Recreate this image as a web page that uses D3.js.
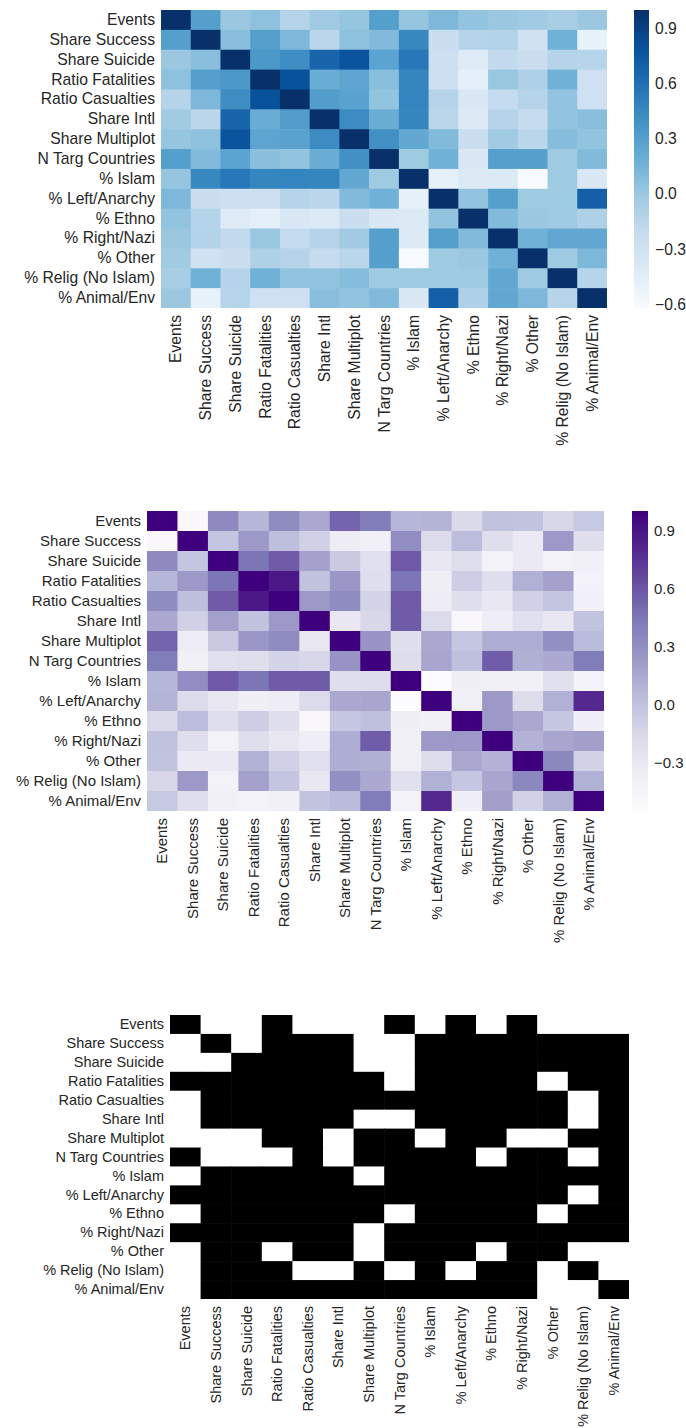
<!DOCTYPE html>
<html lang="en">
<head>
<meta charset="UTF-8">
<title>Correlation heatmaps</title>
<script src="https://cdn.jsdelivr.net/npm/d3@7/dist/d3.min.js"></script>
<style>
  body { margin: 0; background: #fff; }
  svg { display: block; }
</style>
</head>
<body>
<svg id="chart" width="686" height="1428"></svg>
<script>
var labels = ["Events", "Share Success", "Share Suicide", "Ratio Fatalities", "Ratio Casualties",
    "Share Intl", "Share Multiplot", "N Targ Countries", "% Islam", "% Left/Anarchy",
    "% Ethno", "% Right/Nazi", "% Other", "% Relig (No Islam)", "% Animal/Env"];

// top chart
var corrAll = [
    [1.00, 0.30, 0.00, 0.05, -0.13, -0.03, 0.02, 0.30, 0.02, 0.12, 0.03, 0.00, -0.03, -0.06, 0.00],
    [0.30, 1.00, 0.07, 0.30, 0.12, -0.16, 0.05, 0.10, 0.45, -0.25, -0.13, -0.12, -0.30, 0.17, -0.50],
    [0.00, 0.07, 1.00, 0.35, 0.42, 0.67, 0.78, 0.27, 0.55, -0.27, -0.42, -0.20, -0.25, -0.13, -0.14],
    [0.05, 0.30, 0.35, 1.00, 0.80, 0.20, 0.26, 0.07, 0.47, -0.27, -0.47, 0.01, -0.10, 0.17, -0.28],
    [-0.13, 0.12, 0.42, 0.80, 1.00, 0.31, 0.28, 0.03, 0.48, -0.13, -0.38, -0.21, -0.13, 0.03, -0.28],
    [-0.03, -0.16, 0.67, 0.20, 0.31, 1.00, 0.43, 0.20, 0.47, -0.16, -0.40, -0.13, -0.22, 0.03, 0.07],
    [0.02, 0.05, 0.78, 0.26, 0.28, 0.43, 1.00, 0.40, 0.23, 0.10, -0.25, -0.03, -0.15, 0.08, 0.03],
    [0.30, 0.10, 0.27, 0.07, 0.03, 0.20, 0.40, 1.00, -0.02, 0.17, -0.38, 0.30, 0.30, -0.02, 0.10],
    [0.02, 0.45, 0.55, 0.47, 0.48, 0.47, 0.23, -0.02, 1.00, -0.48, -0.40, -0.40, -0.62, -0.02, -0.38],
    [0.12, -0.25, -0.27, -0.27, -0.13, -0.16, 0.10, 0.17, -0.48, 1.00, 0.03, 0.30, -0.02, -0.02, 0.70],
    [0.03, -0.13, -0.42, -0.47, -0.38, -0.40, -0.25, -0.38, -0.40, 0.03, 1.00, 0.10, 0.00, -0.02, -0.10],
    [0.00, -0.12, -0.20, 0.01, -0.21, -0.13, -0.03, 0.30, -0.40, 0.30, 0.10, 1.00, 0.17, 0.24, 0.24],
    [-0.03, -0.30, -0.25, -0.10, -0.13, -0.22, -0.15, 0.30, -0.62, -0.02, 0.00, 0.17, 1.00, -0.02, 0.12],
    [-0.06, 0.17, -0.13, 0.17, 0.03, 0.03, 0.08, -0.02, -0.02, -0.02, -0.02, 0.24, -0.02, 1.00, -0.14],
    [0.00, -0.50, -0.14, -0.28, -0.28, 0.07, 0.03, 0.10, -0.38, 0.70, -0.10, 0.24, 0.12, -0.14, 1.00]
];

// middle chart, purples
var corrSub = [
    [1.00, -0.50, 0.33, 0.07, 0.32, 0.15, 0.53, 0.42, 0.07, 0.08, -0.16, 0.00, -0.01, -0.14, -0.04],
    [-0.50, 1.00, -0.02, 0.24, 0.02, -0.10, -0.35, -0.40, 0.31, -0.17, 0.03, -0.20, -0.32, 0.24, -0.20],
    [0.33, -0.02, 1.00, 0.45, 0.57, 0.19, -0.05, -0.22, 0.58, -0.28, -0.20, -0.42, -0.32, -0.42, -0.40],
    [0.07, 0.24, 0.45, 1.00, 0.88, 0.00, 0.25, -0.20, 0.45, -0.38, -0.08, -0.20, 0.10, 0.19, -0.42],
    [0.32, 0.02, 0.57, 0.88, 1.00, 0.24, 0.32, -0.12, 0.57, -0.35, -0.21, -0.30, -0.10, -0.02, -0.40],
    [0.15, -0.10, 0.19, 0.00, 0.24, 1.00, -0.30, -0.15, 0.57, -0.17, -0.50, -0.36, -0.22, -0.30, -0.01],
    [0.53, -0.35, -0.05, 0.25, 0.32, -0.30, 1.00, 0.27, -0.21, 0.15, -0.03, 0.12, 0.12, 0.30, 0.04],
    [0.42, -0.40, -0.22, -0.20, -0.12, -0.15, 0.27, 1.00, -0.19, 0.16, 0.01, 0.56, 0.11, 0.14, 0.42],
    [0.07, 0.31, 0.58, 0.45, 0.57, 0.57, -0.21, -0.19, 1.00, -0.55, -0.38, -0.40, -0.40, -0.22, -0.42],
    [0.08, -0.17, -0.28, -0.38, -0.35, -0.17, 0.15, 0.16, -0.55, 1.00, -0.40, 0.24, -0.19, 0.10, 0.80],
    [-0.16, 0.03, -0.20, -0.08, -0.21, -0.50, -0.03, 0.01, -0.38, -0.40, 1.00, 0.24, 0.15, -0.03, -0.37],
    [0.00, -0.20, -0.42, -0.20, -0.30, -0.36, 0.12, 0.56, -0.40, 0.24, 0.24, 1.00, 0.09, 0.16, 0.20],
    [-0.01, -0.32, -0.32, 0.10, -0.10, -0.22, 0.12, 0.11, -0.40, -0.19, 0.15, 0.09, 1.00, 0.35, -0.11],
    [-0.14, 0.24, -0.42, 0.19, -0.02, -0.30, 0.30, 0.14, -0.22, 0.10, -0.03, 0.16, 0.35, 1.00, 0.10],
    [-0.04, -0.20, -0.40, -0.42, -0.40, -0.01, 0.04, 0.42, -0.42, 0.80, -0.37, 0.20, -0.11, 0.10, 1.00]
];

// bottom chart, 1 = black
var sigMask = [
    [1, 0, 0, 1, 0, 0, 0, 1, 0, 1, 0, 1, 0, 0, 0],
    [0, 1, 0, 1, 1, 1, 0, 0, 1, 1, 1, 1, 1, 1, 1],
    [0, 0, 1, 1, 1, 1, 0, 0, 1, 1, 1, 1, 1, 1, 1],
    [1, 1, 1, 1, 1, 1, 1, 0, 1, 1, 1, 1, 0, 1, 1],
    [0, 1, 1, 1, 1, 1, 1, 1, 1, 1, 1, 1, 1, 0, 1],
    [0, 1, 1, 1, 1, 1, 0, 0, 1, 1, 1, 1, 1, 0, 1],
    [0, 0, 0, 1, 1, 0, 1, 1, 0, 1, 1, 0, 0, 1, 1],
    [1, 0, 0, 0, 1, 0, 1, 1, 1, 1, 0, 1, 1, 0, 1],
    [0, 1, 1, 1, 1, 1, 0, 1, 1, 1, 1, 1, 1, 1, 1],
    [1, 1, 1, 1, 1, 1, 1, 1, 1, 1, 1, 1, 1, 0, 1],
    [0, 1, 1, 1, 1, 1, 1, 0, 1, 1, 1, 1, 0, 1, 1],
    [1, 1, 1, 1, 1, 1, 0, 1, 1, 1, 1, 1, 1, 1, 1],
    [0, 1, 1, 0, 1, 1, 0, 1, 1, 1, 0, 1, 1, 0, 0],
    [0, 1, 1, 1, 0, 0, 1, 0, 1, 0, 1, 1, 0, 1, 0],
    [0, 1, 1, 1, 1, 1, 1, 1, 1, 1, 1, 1, 0, 0, 1]
];

var cbTicksAll = [-0.6, -0.3, 0.0, 0.3, 0.6, 0.9];
var cbTicksSub = [-0.3, 0.0, 0.3, 0.6, 0.9];

var FONT = "'Liberation Sans', Arial, sans-serif";
var TEXT = "#262626";
var svg = d3.select("#chart");

function seqScale(m, scheme) {
    var flat = d3.merge(m);
    return d3.scaleSequential(d3.piecewise(d3.interpolateRgb, scheme))
        .domain([d3.min(flat), d3.max(flat)]);
}

function heatmap(m, color, o) {
    var xs = d3.scaleBand().domain(labels).range([o.x, o.x + o.w]);
    var ys = d3.scaleBand().domain(labels).range([o.y, o.y + o.h]);
    var last = labels[labels.length - 1];

    var cells = [];
    m.forEach(function (row, i) {
        row.forEach(function (v, j) {
            cells.push({ r: labels[i], c: labels[j], v: v });
        });
    });

    // small overlap so no hairline seams show between cells
    var g = svg.append("g");
    g.selectAll("rect").data(cells).enter().append("rect")
        .attr("x", function (d) { return xs(d.c); })
        .attr("y", function (d) { return ys(d.r); })
        .attr("width", function (d) { return xs.bandwidth() + (d.c === last ? 0 : 0.6); })
        .attr("height", function (d) { return ys.bandwidth() + (d.r === last ? 0 : 0.6); })
        .attr("fill", function (d) { return color(d.v); });

    // row labels
    var ya = svg.append("g")
        .call(d3.axisLeft(ys).tickSize(0).tickPadding(6))
        .attr("transform", "translate(" + o.x + ",0)");
    ya.select(".domain").remove();
    ya.attr("font-size", o.fs).attr("font-family", FONT).style("color", TEXT);

    // column labels, rotated
    var xa = svg.append("g")
        .attr("transform", "translate(0," + (o.y + o.h) + ")")
        .call(d3.axisBottom(xs).tickSize(0));
    xa.select(".domain").remove();
    xa.attr("font-size", o.fs).attr("font-family", FONT).style("color", TEXT);
    xa.selectAll("text")
        .attr("transform", "rotate(-90)")
        .attr("text-anchor", "end")
        .attr("x", -7)
        .attr("y", 0)
        .attr("dy", "0.35em");

    if (!o.ticks) return;

    // colorbar
    var dom = color.domain();
    var cs = d3.scaleLinear().domain(dom).range([o.y + o.h, o.y]);
    var grad = svg.append("defs").append("linearGradient")
        .attr("id", o.id).attr("x1", 0).attr("y1", 1).attr("x2", 0).attr("y2", 0);
    d3.range(0, 1.0001, 0.02).forEach(function (t) {
        grad.append("stop").attr("offset", t).attr("stop-color", color(dom[0] + t * (dom[1] - dom[0])));
    });
    svg.append("rect")
        .attr("x", o.cbx).attr("y", o.y)
        .attr("width", o.cbw).attr("height", o.h)
        .attr("fill", "url(#" + o.id + ")");

    var ca = svg.append("g")
        .attr("transform", "translate(" + (o.cbx + o.cbw) + ",0)")
        .call(d3.axisRight(cs).tickValues(o.ticks).tickSize(0).tickPadding(6).tickFormat(d3.format(".1f")));
    ca.select(".domain").remove();
    ca.attr("font-size", o.fs).attr("font-family", FONT).style("color", TEXT);
}

heatmap(corrAll, seqScale(corrAll, d3.schemeBlues[9]),
    { x: 161, y: 10, w: 446, h: 298, fs: 15.7, id: "cbAll", cbx: 634, cbw: 15, ticks: cbTicksAll });

heatmap(corrSub, seqScale(corrSub, d3.schemePurples[9]),
    { x: 147, y: 511, w: 457, h: 300, fs: 15, id: "cbSub", cbx: 632, cbw: 16, ticks: cbTicksSub });

heatmap(sigMask, d3.scaleOrdinal().domain([0, 1]).range(["#ffffff", "#000000"]),
    { x: 170, y: 1015, w: 459, h: 284, fs: 14.5 });
</script>
</body>
</html>
